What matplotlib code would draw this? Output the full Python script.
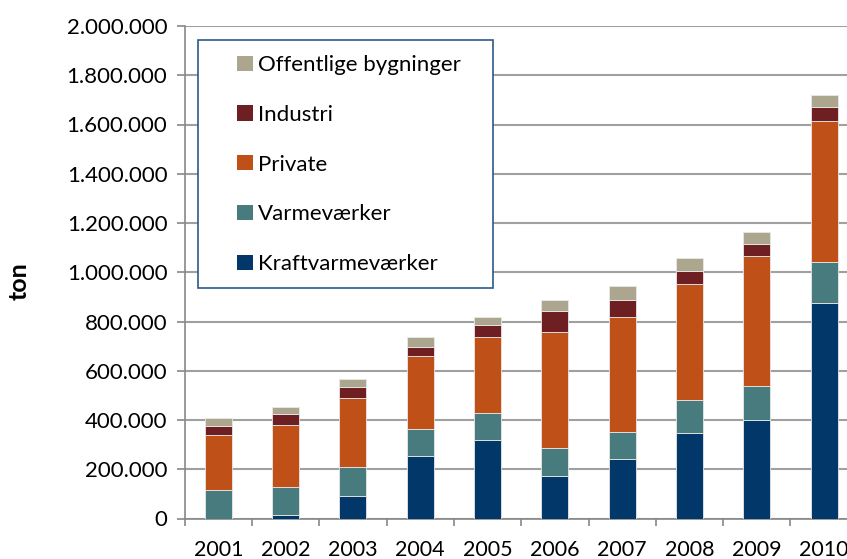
import numpy as np
import matplotlib.pyplot as plt
from matplotlib.patches import Patch, Rectangle
from matplotlib.ticker import FuncFormatter

plt.rcParams['font.family'] = ['Lato', 'DejaVu Sans']

# values, in tonnes
years = ['2001', '2002', '2003', '2004', '2005', '2006', '2007', '2008', '2009', '2010']
kraftvarme = [0, 15000, 93000, 255000, 317000, 171000, 240000, 349000, 401000, 877000]
varme = [115000, 112000, 115000, 107000, 110000, 116000, 111000, 132000, 137000, 164000]
private = [224000, 253000, 282000, 297000, 310000, 469000, 469000, 472000, 528000, 573000]
industri = [38000, 46000, 46000, 39000, 48000, 85000, 69000, 52000, 50000, 58000]
offentlige = [31000, 28000, 29000, 38000, 35000, 48000, 54000, 52000, 47000, 48000]

series = [
    ('Kraftvarmeværker', kraftvarme, '#02376A'),
    ('Varmeværker', varme, '#477B7E'),
    ('Private', private, '#BF5018'),
    ('Industri', industri, '#6E1F21'),
    ('Offentlige bygninger', offentlige, '#ADA68F'),
]

W, H = 847, 559
fig = plt.figure(figsize=(W / 100, H / 100), dpi=100)
ax = fig.add_axes([184.7 / W, 1 - 518.5 / H, 673 / W, 492.5 / H])

x = np.arange(len(years))
bottom = np.zeros(len(years))
for name, vals, col in series:
    ax.bar(x, vals, width=0.4, bottom=bottom, color=col,
           edgecolor='#e8e8e8', linewidth=0.6, zorder=3)
    bottom += np.array(vals)

ax.set_xlim(-0.5, len(years) - 0.5)
ax.set_ylim(0, 2000000)
ax.set_yticks(np.arange(0, 2000001, 200000))
ax.yaxis.set_major_formatter(FuncFormatter(lambda v, p: f'{int(v):,}'.replace(',', '.')))
ax.set_xticks(x)
ax.set_xticklabels(years)
ax.set_xticks(np.arange(-0.5, len(years), 1), minor=True)
ax.tick_params(axis='x', which='major', length=0, pad=15.5, labelsize=15.5)
ax.tick_params(axis='x', which='minor', length=5, color='#888888', width=1.2, direction='out')
ax.tick_params(axis='y', length=6, color='#888888', width=1.2, labelsize=16, pad=6.5)

ax.grid(axis='y', color='#a0a0a0', linewidth=1.5, zorder=0)
for s in ['top', 'right']:
    ax.spines[s].set_visible(False)
for s in ['left', 'bottom']:
    ax.spines[s].set_color('#888888')
    ax.spines[s].set_linewidth(1.2)

ax.text(-0.2465, 0.482, 'ton', transform=ax.transAxes, rotation=90,
        ha='center', va='center', fontsize=18, fontweight='bold')

# legend: frame drawn as a rectangle, entries via legend without frame
fig.patches.append(Rectangle((198 / W, 1 - 288 / H), 295 / W, 248 / H,
                             transform=fig.transFigure, facecolor='white',
                             edgecolor='#2B5A8A', linewidth=1.2, zorder=4))
handles = [Patch(facecolor=col, edgecolor='none') for name, vals, col in series[::-1]]
labels = [name for name, vals, col in series[::-1]]
leg = fig.legend(handles, labels, loc='upper left', bbox_to_anchor=(237 / W, 1 - 55 / H),
                 fontsize=16, frameon=False, labelspacing=1.34, handlelength=0.72,
                 handleheight=0.68, handletextpad=0.23, borderpad=0, borderaxespad=0)
leg.set_zorder(5)

fig.savefig('out.png', dpi=100)
